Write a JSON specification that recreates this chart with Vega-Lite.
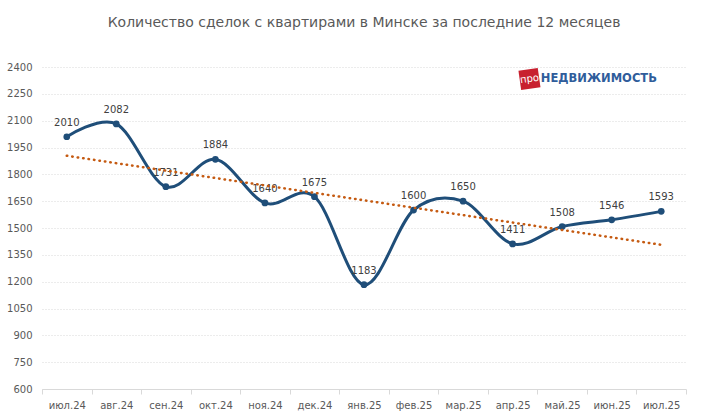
{
  "$schema": "https://vega.github.io/schema/vega-lite/v6.json",
  "width": 701,
  "height": 420,
  "autosize": {"type": "fit", "contains": "padding"},
  "padding": {"left": 6, "right": 14, "top": 16, "bottom": 10},
  "background": "white",
  "title": {
    "text": "Количество сделок с квартирами в Минске за последние 12 месяцев",
    "font": "DejaVu Sans",
    "fontSize": 14,
    "fontWeight": "normal",
    "color": "#595959",
    "offset": 32
  },
  "datasets": {
    "deals": [
      {"n": 0, "month": "июл.24", "value": 2010},
      {"n": 1, "month": "авг.24", "value": 2082},
      {"n": 2, "month": "сен.24", "value": 1731},
      {"n": 3, "month": "окт.24", "value": 1884},
      {"n": 4, "month": "ноя.24", "value": 1640},
      {"n": 5, "month": "дек.24", "value": 1675},
      {"n": 6, "month": "янв.25", "value": 1183},
      {"n": 7, "month": "фев.25", "value": 1600},
      {"n": 8, "month": "мар.25", "value": 1650},
      {"n": 9, "month": "апр.25", "value": 1411},
      {"n": 10, "month": "май.25", "value": 1508},
      {"n": 11, "month": "июн.25", "value": 1546},
      {"n": 12, "month": "июл.25", "value": 1593}
    ],
    "badge": [{"n": 9.34, "value": 2333, "label": "про"}],
    "word": [{"n": 9.57, "value": 2333, "label": "НЕДВИЖИМОСТЬ"}]
  },
  "layer": [
    {
      "data": {"name": "deals"},
      "encoding": {
        "x": {
          "field": "month",
          "type": "ordinal",
          "sort": null,
          "scale": {"type": "band", "paddingInner": 0, "paddingOuter": 0},
          "axis": {
            "title": null,
            "labelAngle": 0,
            "tickBand": "extent",
            "domainColor": "#d9d9d9",
            "tickColor": "#d9d9d9",
            "tickSize": 5,
            "labelColor": "#595959",
            "labelFont": "DejaVu Sans",
            "labelFontSize": 10,
            "labelPadding": 6,
            "grid": false
          }
        },
        "y": {
          "field": "value",
          "type": "quantitative",
          "scale": {"domain": [600, 2400], "nice": false, "zero": false},
          "axis": {
            "title": null,
            "values": [600, 750, 900, 1050, 1200, 1350, 1500, 1650, 1800, 1950, 2100, 2250, 2400],
            "format": "d",
            "labelOverlap": false,
            "domain": false,
            "ticks": false,
            "labelColor": "#595959",
            "labelFont": "DejaVu Sans",
            "labelFontSize": 10,
            "labelPadding": 10,
            "gridColor": "#d9d9d9",
            "gridDash": [1, 2]
          }
        }
      },
      "layer": [
        {
          "mark": {"type": "line", "interpolate": "cardinal", "color": "#1F4E79", "strokeWidth": 3}
        },
        {
          "mark": {"type": "point", "filled": true, "opacity": 1, "color": "#1F4E79", "size": 45}
        },
        {
          "mark": {"type": "text", "dy": -14, "font": "DejaVu Sans", "fontSize": 10, "color": "#404040"},
          "encoding": {"text": {"field": "value", "type": "quantitative"}}
        }
      ]
    },
    {
      "encoding": {
        "x": {"field": "n", "type": "quantitative", "scale": {"domain": [-0.5, 12.5], "nice": false, "zero": false}, "axis": null},
        "y": {
          "field": "value",
          "type": "quantitative",
          "axis": {
            "title": null,
            "values": [600, 750, 900, 1050, 1200, 1350, 1500, 1650, 1800, 1950, 2100, 2250, 2400],
            "format": "d",
            "labelOverlap": false,
            "domain": false,
            "ticks": false,
            "labelColor": "#595959",
            "labelFont": "DejaVu Sans",
            "labelFontSize": 10,
            "labelPadding": 10,
            "gridColor": "#d9d9d9",
            "gridDash": [1, 2]
          }
        }
      },
      "layer": [
        {
          "data": {"name": "deals"},
          "transform": [
            {"regression": "value", "on": "n", "method": "linear", "extent": [0, 12]}
          ],
          "mark": {
            "type": "line",
            "color": "#C55A11",
            "strokeWidth": 2.5,
            "strokeDash": [0.5, 5],
            "strokeCap": "round"
          }
        },
        {
          "data": {"name": "badge"},
          "mark": {"type": "point", "shape": "square", "filled": true, "opacity": 1, "color": "#C8202F", "size": 380, "angle": -8}
        },
        {
          "data": {"name": "badge"},
          "mark": {"type": "text", "font": "DejaVu Sans", "fontSize": 10, "color": "white", "align": "center", "baseline": "middle", "angle": -8},
          "encoding": {"text": {"field": "label", "type": "nominal"}}
        },
        {
          "data": {"name": "word"},
          "mark": {"type": "text", "font": "DejaVu Sans", "fontWeight": "bold", "fontSize": 11.5, "color": "#2F5D9B", "align": "left", "baseline": "middle"},
          "encoding": {"text": {"field": "label", "type": "nominal"}}
        }
      ]
    }
  ],
  "resolve": {"scale": {"x": "independent"}},
  "config": {"view": {"stroke": null}}
}
